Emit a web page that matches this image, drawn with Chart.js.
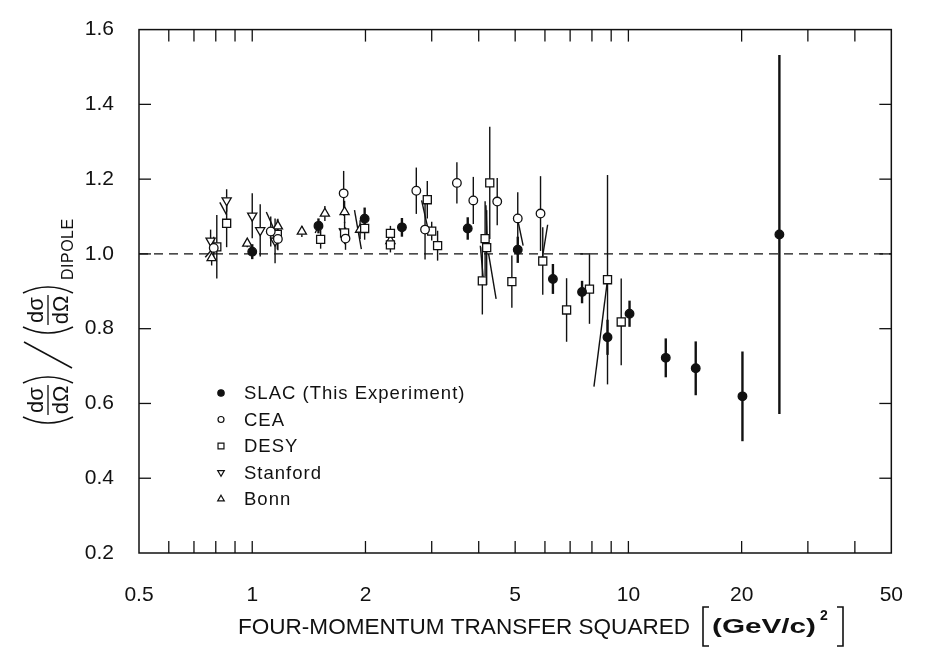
<!DOCTYPE html>
<html>
<head>
<meta charset="utf-8">
<script src="https://cdn.jsdelivr.net/npm/chart.js@4/dist/chart.umd.min.js"></script>
<style>
  html, body { margin: 0; padding: 0; background: #fff; }
  canvas { display: block; }
</style>
</head>
<body>
<canvas id="chart" width="925" height="649"></canvas>
<script>
// Ratio of measured cross section to the dipole-fit prediction vs Q^2 [(GeV/c)^2]
const slacQ2  = [1.0, 1.5, 1.99, 2.5, 3.74, 5.08, 6.3, 7.53, 8.8, 10.07, 12.57, 15.1, 20.1, 25.2];
const slacR   = [1.006, 1.075, 1.094, 1.071, 1.068, 1.011, 0.933, 0.898, 0.777, 0.84, 0.722, 0.694, 0.619, 1.052];
const slacErr = [0.02, 0.02, 0.03, 0.025, 0.03, 0.035, 0.04, 0.03, 0.047, 0.035, 0.052, 0.072, 0.12, 0.48];

const ceaQ2  = [0.79, 1.12, 1.17, 1.75, 1.77, 2.73, 2.88, 3.5, 3.87, 4.48, 5.08, 5.84];
const ceaR   = [1.016, 1.06, 1.04, 1.162, 1.041, 1.169, 1.065, 1.19, 1.143, 1.14, 1.095, 1.108];
const ceaErr = [0.03, 0.04, 0.03, 0.06, 0.03, 0.062, 0.08, 0.055, 0.063, 0.063, 0.07, 0.1];

const desyQ2  = [0.805, 0.855, 1.166, 1.52, 1.76, 1.99, 2.33, 2.33, 2.92, 3.0, 3.11, 4.09, 4.16, 4.2, 4.28, 4.9, 5.92, 6.85, 7.88, 8.8, 9.57];
const desyR   = [1.019, 1.082, 1.052, 1.039, 1.056, 1.068, 1.055, 1.024, 1.145, 1.061, 1.022, 0.928, 1.041, 1.017, 1.19, 0.926, 0.981, 0.85, 0.906, 0.931, 0.818];
const desyErr = [0.085, 0.064, 0.04, 0.025, 0.03, 0.03, 0.02, 0.02, 0.05, 0.025, 0.04, 0.09, 0.1, 0.1, 0.15, 0.07, 0.09, 0.085, 0.093, 0.28, 0.116];

const stanfordQ2  = [0.775, 0.855, 1.0, 1.05, 1.15];
const stanfordR   = [1.035, 1.143, 1.102, 1.063, 1.035];
const stanfordErr = [0.03, 0.03, 0.06, 0.07, 0.06];

const bonnQ2  = [0.78, 0.97, 1.17, 1.355, 1.56, 1.76, 1.935, 2.33];
const bonnR   = [0.989, 1.028, 1.074, 1.06, 1.108, 1.112, 1.065, 1.035];
const bonnErr = [0.02, 0.01, 0.02, 0.015, 0.02, 0.03, 0.025, 0.015];

// Slanted connector lines between points: [q2 start, ratio start, q2 end, ratio end]
const connectors = [
  [0.75, 0.991, 0.79, 1.017],
  [0.82, 1.138, 0.855, 1.104],
  [1.09, 1.112, 1.15, 1.06],
  [1.47, 1.056, 1.52, 1.087],
  [1.70, 1.069, 1.78, 1.035],
  [1.87, 1.117, 1.95, 1.013],
  [2.82, 1.143, 2.93, 1.069],
  [4.04, 1.022, 4.12, 0.926],
  [4.18, 1.13, 4.22, 1.02],
  [4.25, 1.0, 4.45, 0.88],
  [5.08, 1.091, 5.25, 1.022],
  [6.1, 1.078, 5.9, 0.987],
  [8.8, 0.931, 8.1, 0.645],
  [7.45, 1.0, 7.88, 1.0]
];

const xTickValues = [0.5, 0.6, 0.7, 0.8, 0.9, 1, 2, 3, 4, 5, 6, 7, 8, 9, 10, 20, 30, 40, 50];
const xTickLabels = [0.5, 1, 2, 5, 10, 20, 50];
const yTickValues = [0.2, 0.4, 0.6, 0.8, 1.0, 1.2, 1.4, 1.6];

const legendLabels = ['SLAC (This Experiment)', 'CEA', 'DESY', 'Stanford', 'Bonn'];
const xTitle = 'FOUR-MOMENTUM TRANSFER SQUARED';
const xUnit = '(GeV/c)';

const FONT = "'Liberation Sans', Arial, sans-serif";
const INK = '#111';

const series = [
  { label: legendLabels[0], q2: slacQ2, r: slacR, err: slacErr, style: 'circle', rot: 0, radius: 4.3, fill: INK, barWidth: 2.4, legendRadius: 3.2 },
  { label: legendLabels[1], q2: ceaQ2, r: ceaR, err: ceaErr, style: 'circle', rot: 0, radius: 4.3, fill: '#fff', barWidth: 1.4, legendRadius: 3.0 },
  { label: legendLabels[2], q2: desyQ2, r: desyR, err: desyErr, style: 'rect', rot: 0, radius: 5.7, fill: '#fff', barWidth: 1.4, legendRadius: 4.2 },
  { label: legendLabels[3], q2: stanfordQ2, r: stanfordR, err: stanfordErr, style: 'triangle', rot: 180, radius: 5.3, fill: '#fff', barWidth: 1.4, legendRadius: 3.8 },
  { label: legendLabels[4], q2: bonnQ2, r: bonnR, err: bonnErr, style: 'triangle', rot: 0, radius: 5.3, fill: '#fff', barWidth: 1.4, legendRadius: 3.8 }
];

function line(ctx, x1, y1, x2, y2) {
  ctx.beginPath();
  ctx.moveTo(x1, y1);
  ctx.lineTo(x2, y2);
  ctx.stroke();
}

// Draws text squeezed or stretched horizontally to a given width
function fitText(ctx, text, x, y, width) {
  const w = ctx.measureText(text).width;
  ctx.save();
  ctx.translate(x, y);
  ctx.scale(width / w, 1);
  ctx.fillText(text, 0, 0);
  ctx.restore();
}

// Dashed reference line, error bars and connector lines, beneath the markers
const underlay = {
  id: 'underlay',
  beforeDatasetsDraw(chart) {
    const { ctx, chartArea: ca, scales: { x, y } } = chart;
    ctx.save();
    ctx.strokeStyle = INK;
    ctx.lineCap = 'butt';

    ctx.lineWidth = 1.2;
    ctx.setLineDash([9, 6]);
    const y1 = y.getPixelForValue(1.0);
    line(ctx, ca.left, y1, ca.right, y1);
    ctx.setLineDash([]);

    series.forEach(s => {
      ctx.lineWidth = s.barWidth;
      s.q2.forEach((q, i) => {
        const px = x.getPixelForValue(q);
        line(ctx, px, y.getPixelForValue(s.r[i] + s.err[i]), px, y.getPixelForValue(s.r[i] - s.err[i]));
      });
    });

    ctx.lineWidth = 1.4;
    connectors.forEach(c => {
      line(ctx, x.getPixelForValue(c[0]), y.getPixelForValue(c[1]), x.getPixelForValue(c[2]), y.getPixelForValue(c[3]));
    });
    ctx.restore();
  }
};

// Frame, inward ticks, axis titles and the key
const decorations = {
  id: 'decorations',
  afterDraw(chart) {
    const { ctx, chartArea: ca, scales: { x, y } } = chart;
    const TL = 12;
    ctx.save();
    ctx.strokeStyle = INK;
    ctx.fillStyle = INK;
    ctx.lineWidth = 1.5;
    ctx.strokeRect(ca.left, ca.top, ca.right - ca.left, ca.bottom - ca.top);

    ctx.lineWidth = 1.3;
    xTickValues.slice(1, -1).forEach(v => {
      const px = x.getPixelForValue(v);
      line(ctx, px, ca.bottom, px, ca.bottom - TL);
      line(ctx, px, ca.top, px, ca.top + TL);
    });
    yTickValues.slice(1, -1).forEach(v => {
      const py = y.getPixelForValue(v);
      line(ctx, ca.left, py, ca.left + TL, py);
      line(ctx, ca.right, py, ca.right - TL, py);
    });

    // key
    const lx = 221, tx = 244, ly0 = 393, dy = 26.5;
    ctx.font = '18.5px ' + FONT;
    ctx.textAlign = 'left';
    ctx.textBaseline = 'middle';
    if ('letterSpacing' in ctx) ctx.letterSpacing = '1px';
    series.forEach((s, i) => {
      const ly = ly0 + i * dy;
      ctx.save();
      ctx.fillStyle = s.fill;
      ctx.strokeStyle = INK;
      ctx.lineWidth = 1.2;
      Chart.helpers.drawPoint(ctx, { pointStyle: s.style, rotation: s.rot, radius: s.legendRadius, borderWidth: 1.2 }, lx, ly);
      ctx.restore();
      ctx.fillText(s.label, tx, ly + 1);
    });
    if ('letterSpacing' in ctx) ctx.letterSpacing = '0px';

    // x-axis title with bracketed unit
    const ty = 634;
    ctx.textBaseline = 'alphabetic';
    ctx.font = '22px ' + FONT;
    fitText(ctx, xTitle, 238, ty, 452);
    ctx.lineWidth = 1.6;
    const bTop = 607, bBot = 646, bl = 703, br = 843;
    ctx.beginPath();
    ctx.moveTo(bl + 6, bTop); ctx.lineTo(bl, bTop); ctx.lineTo(bl, bBot); ctx.lineTo(bl + 6, bBot);
    ctx.moveTo(br - 6, bTop); ctx.lineTo(br, bTop); ctx.lineTo(br, bBot); ctx.lineTo(br - 6, bBot);
    ctx.stroke();
    ctx.font = 'bold 20px ' + FONT;
    fitText(ctx, xUnit, 712, ty - 1, 104);
    ctx.font = 'bold 14px ' + FONT;
    ctx.fillText('2', 820, 620);

    // y-axis title: (dσ/dΩ) / (dσ/dΩ)_DIPOLE, read bottom to top
    ctx.translate(48, 322);
    ctx.rotate(-Math.PI / 2);
    const u0 = -104;
    ctx.lineWidth = 1.5;
    const paren = (u, open) => {
      ctx.beginPath();
      if (open) { ctx.moveTo(u + 9, -25); ctx.quadraticCurveTo(u - 3, 0, u + 9, 25); }
      else { ctx.moveTo(u, -25); ctx.quadraticCurveTo(u + 12, 0, u, 25); }
      ctx.stroke();
    };
    const frac = (uc) => {
      ctx.font = '22px ' + FONT;
      ctx.textAlign = 'center';
      ctx.textBaseline = 'alphabetic';
      ctx.fillText('d\u03C3', uc, -5);
      ctx.fillText('d\u03A9', uc, 20);
      ctx.lineWidth = 1.3;
      line(ctx, uc - 15, 0, uc + 15, 0);
      ctx.lineWidth = 1.5;
    };
    paren(u0, true);
    frac(u0 + 26);
    paren(u0 + 43, false);
    line(ctx, u0 + 58, 24, u0 + 84, -24);
    paren(u0 + 90, true);
    frac(u0 + 116);
    paren(u0 + 133, false);
    ctx.font = '16px ' + FONT;
    ctx.textAlign = 'left';
    if ('letterSpacing' in ctx) ctx.letterSpacing = '0.5px';
    ctx.fillText('DIPOLE', u0 + 146, 25);
    ctx.restore();
  }
};

const datasets = series.map(s => ({
  label: s.label,
  data: s.q2.map((q, i) => ({ x: q, y: s.r[i] })),
  pointStyle: s.style,
  rotation: s.rot,
  pointRadius: s.radius,
  pointBackgroundColor: s.fill,
  pointBorderColor: INK,
  pointBorderWidth: 1.3,
  showLine: false
}));

new Chart(document.getElementById('chart'), {
  type: 'scatter',
  data: { datasets },
  plugins: [underlay, decorations],
  options: {
    responsive: false,
    animation: false,
    events: [],
    layout: { padding: { top: 13, right: 19, left: 0, bottom: 0 } },
    plugins: { legend: { display: false }, tooltip: { enabled: false } },
    scales: {
      x: {
        type: 'logarithmic',
        min: 0.5,
        max: 50,
        grid: { display: false },
        border: { display: false },
        afterBuildTicks: s => { s.ticks = xTickValues.map(v => ({ value: v })); },
        afterFit: s => { s.height = 96; },
        ticks: {
          autoSkip: false,
          maxRotation: 0,
          padding: 22,
          color: INK,
          font: { family: FONT, size: 21 },
          callback: v => (xTickLabels.includes(v) ? String(v) : '')
        }
      },
      y: {
        type: 'linear',
        min: 0.2,
        max: 1.6,
        grid: { display: false },
        border: { display: false },
        afterBuildTicks: s => { s.ticks = yTickValues.map(v => ({ value: v })); },
        afterFit: s => { s.width = 139; },
        ticks: {
          autoSkip: false,
          padding: 17,
          color: INK,
          font: { family: FONT, size: 21 },
          callback: v => v.toFixed(1)
        }
      }
    }
  }
});
</script>
</body>
</html>
